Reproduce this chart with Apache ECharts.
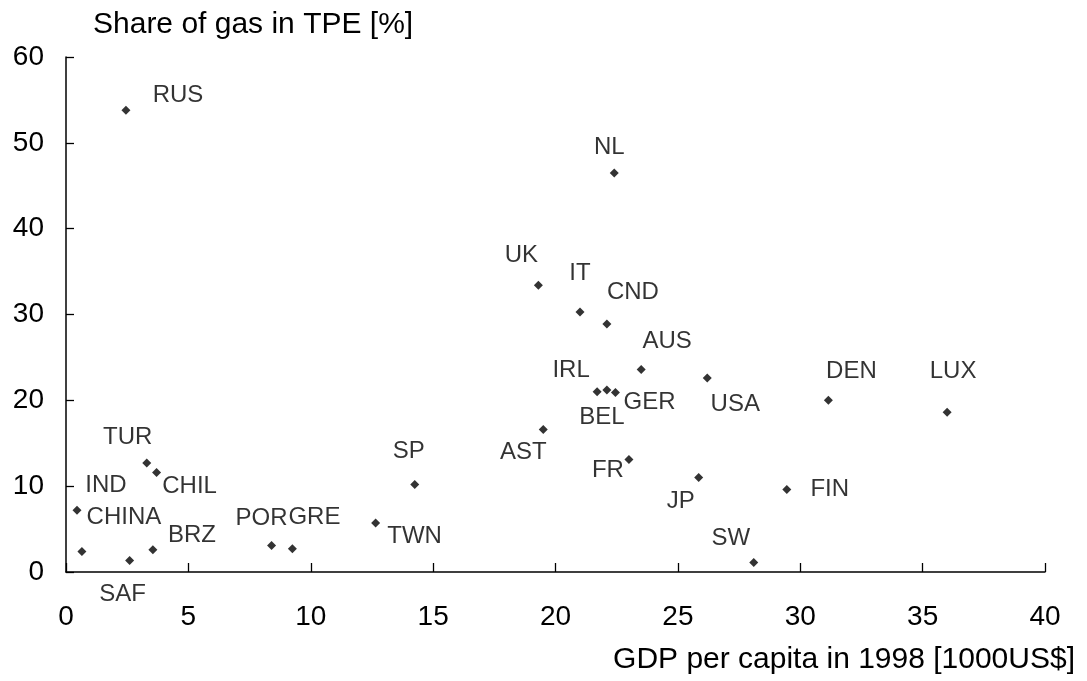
<!DOCTYPE html>
<html>
<head>
<meta charset="utf-8">
<title>Share of gas in TPE vs GDP per capita</title>
<script src="https://cdn.jsdelivr.net/npm/echarts@6/dist/echarts.min.js"></script>
<style>
  html, body { margin: 0; padding: 0; background: #fff; }
  #chart { width: 1087px; height: 681px; }
</style>
</head>
<body>
<div id="chart"></div>
<script>
// Countries, GDP per capita in 1998 [1000 US$] and share of gas in TPE [%]
const countries = ['RUS','NL','UK','IT','CND','AUS','USA','IRL','BEL','GER','AST','FR','JP','FIN','SW','LUX','DEN',
                   'TUR','CHIL','SP','IND','CHINA','SAF','BRZ','POR','GRE','TWN'];
const gdpPerCapita = [2.45, 22.4, 19.3, 21.0, 22.1, 23.5, 26.2, 21.7, 22.1, 22.45, 19.5, 23.0, 25.85, 29.45, 28.1, 36.0, 31.15,
                      3.3, 3.7, 14.25, 0.45, 0.65, 2.6, 3.55, 8.4, 9.25, 12.65];
const gasShare = [53.8, 46.5, 33.4, 30.3, 28.9, 23.6, 22.6, 21.0, 21.2, 20.9, 16.6, 13.1, 11.0, 9.6, 1.1, 18.6, 20.0,
                  12.7, 11.6, 10.2, 7.2, 2.4, 1.35, 2.6, 3.1, 2.7, 5.7];

const xTicks = { min: 0, max: 40, interval: 5 };
const yTicks = { min: 0, max: 60, interval: 10 };

// Where each country name sits relative to its marker (pixels)
const labelOffsets = {
  RUS: [52, -15], NL: [-5, -26], UK: [-17, -30], IT: [0, -39], CND: [26, -32],
  AUS: [26, -28], USA: [28, 26], IRL: [-26, -21], BEL: [-5, 27], GER: [34, 10],
  AST: [-20, 23], FR: [-21, 11], JP: [-18, 24], FIN: [43, 0], SW: [-23, -24],
  LUX: [6, -41], DEN: [23, -29], TUR: [-19, -26], CHIL: [33, 14], SP: [-6, -33],
  IND: [29, -25], CHINA: [42, -34], SAF: [-7, 34], BRZ: [39, -14],
  POR: [-10, -27], GRE: [22, -31], TWN: [39, 13]
};

const FONT = '"Liberation Sans", Arial, Helvetica, sans-serif';

const points = countries.map((name, i) => ({
  name: name,
  value: [gdpPerCapita[i], gasShare[i]],
  label: { offset: labelOffsets[name] }
}));

const chart = echarts.init(document.getElementById('chart'), null, { renderer: 'canvas' });

chart.setOption({
  backgroundColor: '#ffffff',
  animation: false,
  textStyle: { fontFamily: FONT, color: '#000' },
  title: [
    {
      text: 'Share of gas in TPE [%]',
      left: 88, top: 5,
      textStyle: { fontFamily: FONT, fontSize: 30, fontWeight: 'normal', color: '#000' }
    },
    {
      text: 'GDP per capita in 1998 [1000US$]',
      right: 7, top: 640,
      textStyle: { fontFamily: FONT, fontSize: 30, fontWeight: 'normal', color: '#000' }
    }
  ],
  grid: { left: 66, right: 42, top: 57, bottom: 109, outerBoundsMode: 'none' },
  xAxis: {
    type: 'value',
    min: xTicks.min, max: xTicks.max, interval: xTicks.interval,
    axisLine: { show: true, onZero: false, lineStyle: { color: '#000', width: 1.5 } },
    axisTick: { show: true, inside: true, length: 9, lineStyle: { color: '#000', width: 1.3 } },
    axisLabel: { margin: 31, fontFamily: FONT, fontSize: 28, color: '#000' },
    splitLine: { show: false }
  },
  yAxis: {
    type: 'value',
    min: yTicks.min, max: yTicks.max, interval: yTicks.interval,
    axisLine: { show: true, onZero: false, lineStyle: { color: '#000', width: 1.5 } },
    axisTick: { show: true, inside: true, length: 8, lineStyle: { color: '#000', width: 1.3 } },
    axisLabel: { margin: 22, fontFamily: FONT, fontSize: 28, color: '#000' },
    splitLine: { show: false }
  },
  series: [{
    type: 'scatter',
    symbol: 'diamond',
    symbolSize: 9,
    itemStyle: { color: '#000' },
    label: {
      show: true,
      position: 'inside',
      formatter: '{b}',
      fontFamily: FONT,
      fontSize: 24,
      color: '#000',
      textBorderWidth: 0
    },
    emphasis: { disabled: true },
    data: points
  }]
});
</script>
</body>
</html>
